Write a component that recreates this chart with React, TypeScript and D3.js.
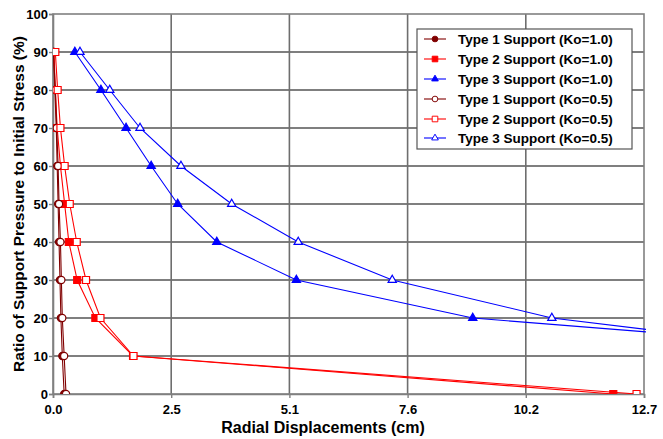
import React, { useEffect, useRef } from 'react'
import * as d3 from 'd3'

const pressure = [90, 80, 70, 60, 50, 40, 30, 20, 10, 0]

const type1Ko10 = [0.01, 0.04, 0.07, 0.09, 0.11, 0.13, 0.15, 0.17, 0.2, 0.24]
const type2Ko10 = [0.02, 0.05, 0.09, 0.16, 0.25, 0.34, 0.52, 0.91, 1.72, 12.04]
const type3Ko10 = [0.47, 1.03, 1.57, 2.11, 2.68, 3.52, 5.23, 9.02, 19.2]
const type1Ko05 = [0.01, 0.05, 0.08, 0.11, 0.13, 0.16, 0.18, 0.2, 0.24, 0.28]
const type2Ko05 = [0.05, 0.1, 0.16, 0.25, 0.36, 0.51, 0.71, 1.02, 1.73, 12.54]
const type3Ko05 = [0.58, 1.22, 1.87, 2.75, 3.84, 5.27, 7.29, 10.72, 17.5]

const xTicks = [0, 2.54, 5.08, 7.62, 10.16, 12.7]
const yTicks = [0, 10, 20, 30, 40, 50, 60, 70, 80, 90, 100]

const seriesList = [
  { name: 'Type 1 Support (Ko=1.0)', values: type1Ko10, color: '#800000', shape: 'circle', filled: true },
  { name: 'Type 2 Support (Ko=1.0)', values: type2Ko10, color: '#ff0000', shape: 'square', filled: true },
  { name: 'Type 3 Support (Ko=1.0)', values: type3Ko10, color: '#0000ff', shape: 'triangle', filled: true },
  { name: 'Type 1 Support (Ko=0.5)', values: type1Ko05, color: '#800000', shape: 'circle', filled: false },
  { name: 'Type 2 Support (Ko=0.5)', values: type2Ko05, color: '#ff0000', shape: 'square', filled: false },
  { name: 'Type 3 Support (Ko=0.5)', values: type3Ko05, color: '#0000ff', shape: 'triangle', filled: false },
]

const W = 663
const H = 439
const left = 53
const right = 644
const top = 14
const bottom = 394

const symbolFor = (shape: string) => {
  if (shape === 'circle') return d3.symbol(d3.symbolCircle, 40)
  if (shape === 'square') return d3.symbol(d3.symbolSquare, 49)
  return d3.symbol(d3.symbolTriangle, 30)
}

const App = () => {
  const ref = useRef<SVGSVGElement>(null)

  useEffect(() => {
    const svg = d3.select(ref.current)
    svg.selectAll('*').remove()

    const x = d3.scaleLinear().domain([0, 12.7]).range([left, right])
    const y = d3.scaleLinear().domain([0, 100]).range([bottom, top])
    const font = 'Arial, "Liberation Sans", sans-serif'

    svg.append('rect').attr('width', W).attr('height', H).attr('fill', '#fff')

    svg.append('clipPath').attr('id', 'plotclip')
      .append('rect').attr('x', left).attr('y', top)
      .attr('width', right - left + 2).attr('height', bottom - top)

    // horizontal grid (black)
    svg.append('g').selectAll('line')
      .data(yTicks.filter(t => t > 0 && t < 100))
      .enter().append('line')
      .attr('x1', left).attr('x2', right)
      .attr('y1', d => y(d)).attr('y2', d => y(d))
      .attr('stroke', '#000').attr('stroke-width', 1.2)

    // vertical grid (gray)
    svg.append('g').selectAll('line')
      .data(xTicks.filter(t => t > 0 && t < 12.7))
      .enter().append('line')
      .attr('x1', d => x(d)).attr('x2', d => x(d))
      .attr('y1', top).attr('y2', bottom)
      .attr('stroke', '#6e6e6e').attr('stroke-width', 1.6)

    // border
    svg.append('rect')
      .attr('x', left).attr('y', top)
      .attr('width', right - left).attr('height', bottom - top)
      .attr('fill', 'none').attr('stroke', '#808080').attr('stroke-width', 1.6)

    // axes
    const yAxis = svg.append('g')
      .attr('transform', `translate(${left},0)`)
      .call(d3.axisLeft(y).tickValues(yTicks).tickSize(4).tickPadding(1).tickFormat(d3.format('d')))
    yAxis.select('.domain').attr('stroke', '#808080').attr('stroke-width', 1.6)
    yAxis.selectAll('.tick line').attr('stroke', '#808080').attr('stroke-width', 1.4)
    yAxis.selectAll('text').attr('font-family', font).attr('font-weight', 'bold')
      .attr('font-size', 13).attr('fill', '#000')

    const xAxis = svg.append('g')
      .attr('transform', `translate(0,${bottom})`)
      .call(d3.axisBottom(x).tickValues(xTicks).tickSize(4).tickPadding(7).tickFormat(d3.format('.1f')))
    xAxis.select('.domain').attr('stroke', '#808080').attr('stroke-width', 1.6)
    xAxis.selectAll('.tick line').attr('stroke', '#808080').attr('stroke-width', 1.4)
    xAxis.selectAll('text').attr('font-family', font).attr('font-weight', 'bold')
      .attr('font-size', 13).attr('fill', '#000')

    // axis titles
    svg.append('text')
      .attr('x', 323).attr('y', 433)
      .attr('text-anchor', 'middle')
      .attr('font-family', font).attr('font-weight', 'bold').attr('font-size', 16)
      .text('Radial Displacements (cm)')

    svg.append('text')
      .attr('transform', `translate(24,${(top + bottom) / 2}) rotate(-90)`)
      .attr('text-anchor', 'middle')
      .attr('font-family', font).attr('font-weight', 'bold').attr('font-size', 15.5)
      .text('Ratio of Support Pressure to Initial Stress (%)')

    // series
    const plot = svg.append('g').attr('clip-path', 'url(#plotclip)')
    const line = d3.line<number>()
      .x(d => x(d))
      .y((_, i) => y(pressure[i]))

    seriesList.forEach(s => {
      plot.append('path')
        .datum(s.values)
        .attr('d', line)
        .attr('fill', 'none')
        .attr('stroke', s.color)
        .attr('stroke-width', 1.1)
    })

    seriesList.forEach(s => {
      plot.append('g').selectAll('path')
        .data(s.values.filter(v => v <= 12.7))
        .enter().append('path')
        .attr('d', symbolFor(s.shape))
        .attr('transform', (d, i) => `translate(${x(d)},${y(pressure[i])})`)
        .attr('fill', s.filled ? s.color : '#fff')
        .attr('stroke', s.color)
        .attr('stroke-width', 1.2)
    })

    // legend
    const lg = svg.append('g')
    lg.append('rect')
      .attr('x', 417).attr('y', 29).attr('width', 215).attr('height', 120)
      .attr('fill', '#fff').attr('stroke', '#555').attr('stroke-width', 1.2)
    const rowY = [39, 59, 79, 99, 119, 138]
    seriesList.forEach((s, i) => {
      const ly = rowY[i]
      lg.append('line')
        .attr('x1', 424).attr('x2', 446).attr('y1', ly).attr('y2', ly)
        .attr('stroke', s.color).attr('stroke-width', 1.1)
      lg.append('path')
        .attr('d', symbolFor(s.shape))
        .attr('transform', `translate(435,${ly}) scale(0.8)`)
        .attr('fill', s.filled ? s.color : '#fff')
        .attr('stroke', s.color).attr('stroke-width', 1.2)
      lg.append('text')
        .attr('x', 458).attr('y', ly + 5)
        .attr('font-family', font).attr('font-weight', 'bold').attr('font-size', 13.5)
        .text(s.name)
    })
  }, [])

  return <svg ref={ref} width={W} height={H} style={{ display: 'block', position: 'absolute', left: 0, top: 0 }}></svg>
}

export default App
